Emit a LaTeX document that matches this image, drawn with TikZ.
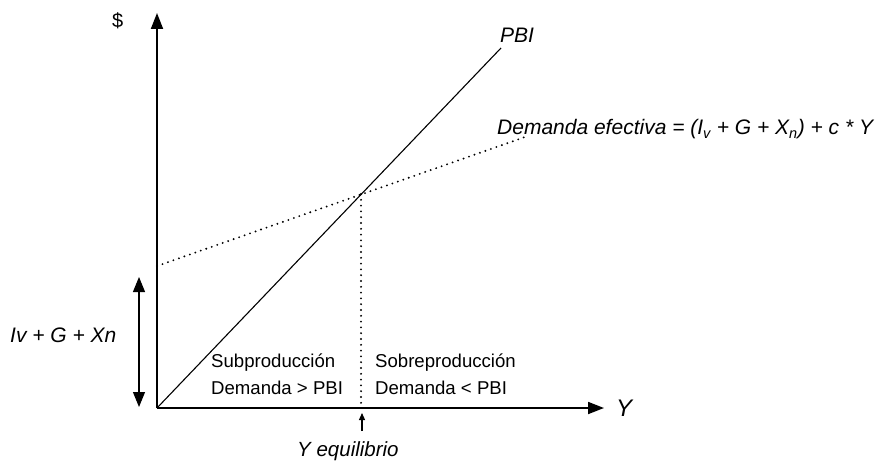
\documentclass[tikz,border=0pt]{standalone}
\usepackage{fontspec}
\setmainfont{Liberation Sans}
\usetikzlibrary{arrows.meta}
\begin{document}
\begin{tikzpicture}[x=1pt,y=-1pt,
  lbl/.style={inner sep=0pt,anchor=base west,font=\fontsize{18.6}{23}\selectfont},
  ilbl/.style={inner sep=0pt,anchor=base west,font=\fontsize{21}{24}\selectfont\itshape},
  axis/.style={line width=1.8pt,-{Triangle[length=16pt,width=12pt]}},
  dotline/.style={line width=2.1pt,line cap=round,dash pattern=on 0pt off 5.8pt},
  thin/.style={line width=1.1pt}]
\useasboundingbox (0,0) rectangle (882,465);
% coordinates
\coordinate (O) at (157,408);
\coordinate (ytip) at (157,13);
\coordinate (xtip) at (604,408);
\coordinate (pbiend) at (501,48);
\coordinate (dstart) at (157,266);
\coordinate (dend) at (525,137);
\coordinate (eq) at (361,194);
\coordinate (eqbase) at (361,408);
\coordinate (da) at (139,277);
\coordinate (db) at (139,407);
\coordinate (sa) at (362,431);
\coordinate (sb) at (362,413);
% axes
\draw[axis] (O) -- (ytip);
\draw[axis] (O) -- (xtip);
% lines
\draw[thin] (O) -- (pbiend);
\draw[dotline] (dstart) -- (dend);
\draw[dotline] (eq) -- (eqbase);
\draw[line width=1.1pt,{Triangle[length=15pt,width=12pt]}-{Triangle[length=15pt,width=12pt]}] (da) -- (db);
\draw[line width=1.1pt,-{Triangle[length=7pt,width=6pt]}] (sa) -- (sb);
% labels
\node[lbl,font=\fontsize{20}{24}\selectfont] (dollar) at (112,28) {\$};
\node[ilbl] (pbi) at (500,43) {PBI};
\node[ilbl] (dem) at (497,135) {Demanda efectiva = (I\textsubscript{\fontsize{14.5}{15}\selectfont v} + G + X\textsubscript{\fontsize{14.5}{15}\selectfont n}) + c * Y};
\node[ilbl] (ivg) at (10,342) {Iv + G + Xn};
\node[lbl] (sub1) at (211,367) {Subproducción};
\node[lbl] (sub2) at (211,394) {Demanda > PBI};
\node[lbl] (sob1) at (375,367) {Sobreproducción};
\node[lbl] (sob2) at (375,394) {Demanda < PBI};
\node[ilbl,font=\fontsize{24}{26}\selectfont\itshape] (ylab) at (616,416) {Y};
\node[ilbl,font=\fontsize{20.5}{24}\selectfont\itshape] (yeq) at (297,456) {Y equilibrio};
\end{tikzpicture}
\end{document}
